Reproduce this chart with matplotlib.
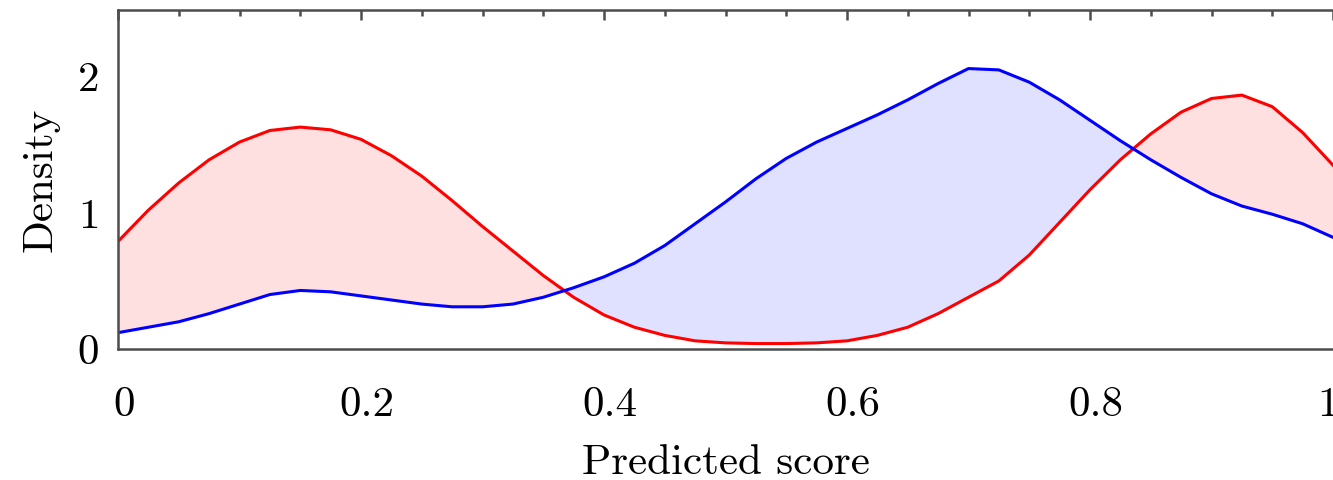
import numpy as np
import matplotlib
matplotlib.use("Agg")
import matplotlib.pyplot as plt
import matplotlib.transforms as mtrans
from matplotlib.ticker import MultipleLocator, FixedLocator, FixedFormatter

# predicted score grid and the two density curves
score = [0.000, 0.025, 0.050, 0.075, 0.100, 0.125, 0.150, 0.175, 0.200, 0.225,
         0.250, 0.275, 0.300, 0.325, 0.350, 0.375, 0.400, 0.425, 0.450, 0.475,
         0.500, 0.525, 0.550, 0.575, 0.600, 0.625, 0.650, 0.675, 0.700, 0.725,
         0.750, 0.775, 0.800, 0.825, 0.850, 0.875, 0.900, 0.925, 0.950, 0.975,
         1.000]
red_density = [0.79, 1.02, 1.22, 1.39, 1.52, 1.605, 1.63, 1.61, 1.54, 1.42,
               1.27, 1.09, 0.90, 0.72, 0.54, 0.38, 0.25, 0.16, 0.10, 0.06,
               0.045, 0.04, 0.04, 0.045, 0.06, 0.10, 0.16, 0.26, 0.38, 0.50,
               0.69, 0.93, 1.17, 1.39, 1.58, 1.74, 1.84, 1.865, 1.78, 1.59,
               1.35]
blue_density = [0.12, 0.16, 0.20, 0.26, 0.33, 0.40, 0.43, 0.42, 0.39, 0.36,
                0.33, 0.31, 0.31, 0.33, 0.38, 0.45, 0.53, 0.63, 0.76, 0.92,
                1.08, 1.25, 1.40, 1.52, 1.62, 1.72, 1.83, 1.95, 2.06, 2.05,
                1.96, 1.83, 1.68, 1.53, 1.39, 1.26, 1.14, 1.05, 0.99, 0.92,
                0.82]

xtick_pos = [0, 0.2, 0.4, 0.6, 0.8, 1.0]
xtick_labels = ['0', '0.2', '0.4', '0.6', '0.8', '1']
ytick_pos = [0, 1, 2]
ytick_labels = ['0', '1', '2']

plt.rcParams['font.family'] = 'cmr10'
plt.rcParams['font.size'] = 31

x = np.array(score)
r = np.array(red_density)
b = np.array(blue_density)

fig = plt.figure(figsize=(13.33, 4.8), dpi=100)
ax = fig.add_axes([118/1333, 131/480, 1 - 118/1333, 339/480])

ax.fill_between(x, r, b, where=r >= b, interpolate=True, color='#ffe0e0', lw=0)
ax.fill_between(x, r, b, where=b >= r, interpolate=True, color='#e0e0ff', lw=0)
ax.plot(x, r, color='#ff0000', lw=2.2, solid_joinstyle='round')
ax.plot(x, b, color='#0000ff', lw=2.2, solid_joinstyle='round')

ax.set_xlim(0, 1)
ax.set_ylim(0, 2.49)

for s in ax.spines.values():
    s.set_color('#4d4d4d')
    s.set_linewidth(1.8)
ax.spines['right'].set_visible(False)

ax.xaxis.set_major_locator(FixedLocator(xtick_pos))
ax.xaxis.set_major_formatter(FixedFormatter(xtick_labels))
ax.xaxis.set_minor_locator(MultipleLocator(0.05))
ax.tick_params(axis='x', which='both', bottom=False, top=True, direction='in',
               labelbottom=True, color='#4d4d4d', width=1.8)
ax.tick_params(axis='x', which='major', length=7, pad=27)
ax.tick_params(axis='x', which='minor', length=4)

# labels sit a little off their ticks in the original; the last one is pulled in
labs = ax.get_xticklabels()
for i, lab in enumerate(labs):
    dx = -5 if i == len(labs) - 1 else 6
    lab.set_transform(lab.get_transform() +
                      mtrans.ScaledTranslation(dx/100, 0, fig.dpi_scale_trans))

ax.yaxis.set_major_locator(FixedLocator(ytick_pos))
ax.yaxis.set_major_formatter(FixedFormatter(ytick_labels))
ax.tick_params(axis='y', left=False, pad=10)

ax.set_xlabel('Predicted score', labelpad=15)
ax.set_ylabel('Density', labelpad=13)

fig.savefig('out.png', dpi=100)
